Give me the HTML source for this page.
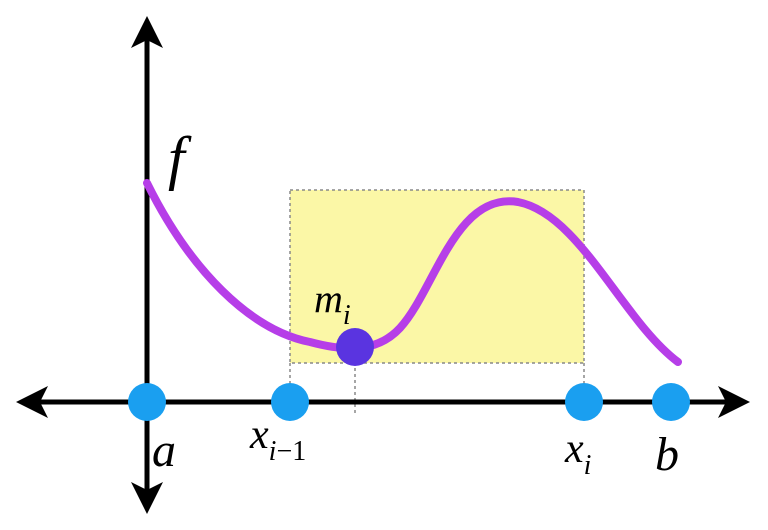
<!DOCTYPE html>
<html><head><style>
html,body{margin:0;padding:0;background:#fff;}
svg{display:block;}
</style></head><body>
<svg width="768" height="530" viewBox="0 0 768 530" xmlns="http://www.w3.org/2000/svg">
<rect x="290" y="190" width="294" height="173" fill="#fbf7a6" stroke="#888" stroke-width="1.5" stroke-dasharray="3,3"/>
<line x1="290" y1="363" x2="290" y2="402" stroke="#888" stroke-width="1.5" stroke-dasharray="3,3"/>
<line x1="584" y1="363" x2="584" y2="402" stroke="#888" stroke-width="1.5" stroke-dasharray="3,3"/>
<line x1="355" y1="350" x2="355" y2="416" stroke="#888" stroke-width="1.5" stroke-dasharray="3,3"/>
<line x1="30" y1="402" x2="736" y2="402" stroke="#000" stroke-width="5"/>
<polygon points="16,402 48,386 40,402 48,418" fill="#000"/>
<polygon points="750,402 718,386 726,402 718,418" fill="#000"/>
<line x1="147" y1="30" x2="147" y2="500" stroke="#000" stroke-width="5"/>
<polygon points="147,16 131,48 147,40 163,48" fill="#000"/>
<polygon points="147,514 131,482 147,490 163,482" fill="#000"/>
<path d="M147,183 C190,270 250,330 310,342 C340,350 375,355 400,328 C435,290 455,192 518,202 C580,214 622,320 678,362" fill="none" stroke="#b63ee8" stroke-width="8" stroke-linecap="round"/>
<circle cx="147" cy="402" r="19" fill="#1a9ff0"/>
<circle cx="290" cy="402" r="19" fill="#1a9ff0"/>
<circle cx="584" cy="402" r="19" fill="#1a9ff0"/>
<circle cx="671" cy="402" r="19" fill="#1a9ff0"/>
<circle cx="355" cy="347" r="19" fill="#5a34e0"/>
<g font-family="Liberation Serif, DejaVu Serif, serif" font-style="italic" fill="#000">
<text x="168" y="178" font-size="60">f</text>
<text x="314" y="312" font-size="40">m<tspan font-size="28" dy="12">i</tspan></text>
<text x="152" y="466" font-size="48">a</text>
<text x="250" y="448" font-size="42">x<tspan font-size="28" dy="12">i</tspan><tspan font-size="28" font-style="normal">−1</tspan></text>
<text x="565" y="462" font-size="42">x<tspan font-size="28" dy="12">i</tspan></text>
<text x="655" y="470" font-size="48">b</text>
</g>
</svg>
</body></html>
